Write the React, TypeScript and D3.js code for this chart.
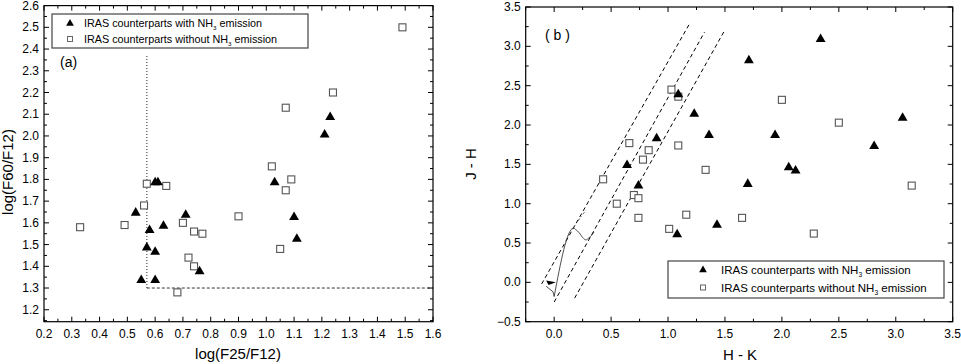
import React, { useEffect, useRef } from "react";
import * as d3 from "d3";

// (a) IRAS colour-colour diagram
const aWithNH3: [number, number][] = [
  [0.53, 1.65], [0.55, 1.34], [0.57, 1.49], [0.58, 1.57], [0.6, 1.79], [0.61, 1.79],
  [0.6, 1.47], [0.6, 1.34], [0.63, 1.59], [0.71, 1.64], [0.76, 1.38], [1.03, 1.79],
  [1.1, 1.63], [1.11, 1.53], [1.21, 2.01], [1.23, 2.09],
];
const aWithoutNH3: [number, number][] = [
  [0.33, 1.58], [0.49, 1.59], [0.56, 1.68], [0.57, 1.78], [0.64, 1.77], [0.68, 1.28],
  [0.7, 1.6], [0.72, 1.44], [0.74, 1.4], [0.74, 1.56], [0.77, 1.55], [0.9, 1.63],
  [1.02, 1.86], [1.05, 1.48], [1.07, 1.75], [1.07, 2.13], [1.09, 1.8], [1.24, 2.2],
  [1.49, 2.5],
];
const aDotted: [number, number][] = [[0.57, 1.3], [0.57, 2.37]];
const aDashed: [number, number][] = [[0.57, 1.3], [1.6, 1.3]];
const aXTicks = [0.2, 0.3, 0.4, 0.5, 0.6, 0.7, 0.8, 0.9, 1.0, 1.1, 1.2, 1.3, 1.4, 1.5, 1.6];
const aYTicks = [1.2, 1.3, 1.4, 1.5, 1.6, 1.7, 1.8, 1.9, 2.0, 2.1, 2.2, 2.3, 2.4, 2.5, 2.6];

// (b) near-infrared colour-colour diagram
const bWithNH3: [number, number][] = [
  [0.64, 1.5], [0.74, 1.24], [0.9, 1.84], [1.09, 2.4], [1.08, 0.62], [1.23, 2.15],
  [1.36, 1.88], [1.43, 0.74], [1.7, 1.26], [1.71, 2.83], [1.94, 1.88], [2.06, 1.47],
  [2.12, 1.43], [2.34, 3.1], [2.81, 1.74], [3.06, 2.1],
];
const bWithoutNH3: [number, number][] = [
  [0.43, 1.31], [0.55, 1.0], [0.66, 1.77], [0.7, 1.11], [0.74, 1.07], [0.74, 0.82],
  [0.78, 1.56], [0.83, 1.68], [1.01, 0.68], [1.03, 2.45], [1.09, 2.36], [1.09, 1.74],
  [1.16, 0.86], [1.33, 1.43], [1.65, 0.82], [2.0, 2.32], [2.28, 0.62], [2.5, 2.03],
  [3.14, 1.23],
];
const bReddening: [number, number][][] = [
  [[-0.11, -0.02], [1.19, 3.29]],
  [[0.0, -0.25], [1.32, 3.18]],
  [[0.18, -0.2], [1.5, 3.21]],
];
const bGiant: [number, number][] = [
  [0.0, -0.18], [0.17, 0.69], [0.19, 0.67], [0.22, 0.63], [0.25, 0.57], [0.28, 0.54],
  [0.3, 0.56], [0.33, 0.6], [0.35, 0.64],
];
const bDwarf: [number, number][] = [[-0.07, -0.05], [-0.01, -0.12], [0.0, -0.18]];
const bDwarfHead: [number, number][] = [[-0.07, 0.025], [0.015, 0.0], [-0.05, -0.035]];
const bCtts: [number, number][] = [[0.17, 0.7], [0.28, 0.92]];
const bXTicks = [0, 0.5, 1.0, 1.5, 2.0, 2.5, 3.0, 3.5];
const bYTicks = [-0.5, 0, 0.5, 1.0, 1.5, 2.0, 2.5, 3.0, 3.5];

const legendLabels = ["IRAS counterparts with NH", "IRAS counterparts without NH"];

const FONT = "'Liberation Sans', Arial, sans-serif";

const App = () => {
  const svgRef = useRef<SVGSVGElement>(null);

  useEffect(() => {
    document.body.style.margin = "0";
    if (!svgRef.current) return;
    const svg = d3.select(svgRef.current);
    svg.selectAll("*").remove();

    const tri = d3.symbol().type(d3.symbolTriangle).size(42);

    const drawFrame = (x: any, y: any, xTicks: number[], yTicks: number[], xMinor: number, yMinor: number) => {
      const [x0, x1] = x.range();
      const [y0, y1] = y.range();
      const g = svg.append("g");
      g.append("rect")
        .attr("x", x0).attr("y", y1)
        .attr("width", x1 - x0).attr("height", y0 - y1)
        .attr("fill", "none").attr("stroke", "#000").attr("stroke-width", 1.2);

      const [dx0, dx1] = x.domain();
      const [dy0, dy1] = y.domain();
      const xAll = d3.range(Math.ceil(dx0 / xMinor - 1e-6), Math.floor(dx1 / xMinor + 1e-6) + 1).map(i => i * xMinor);
      const yAll = d3.range(Math.ceil(dy0 / yMinor - 1e-6), Math.floor(dy1 / yMinor + 1e-6) + 1).map(i => i * yMinor);
      const isMajor = (v: number, list: number[]) => list.some(t => Math.abs(t - v) < 1e-6);

      xAll.forEach(v => {
        const len = isMajor(v, xTicks) ? 5 : 3;
        const px = x(v);
        g.append("line").attr("x1", px).attr("x2", px).attr("y1", y0).attr("y2", y0 - len).attr("stroke", "#000");
        g.append("line").attr("x1", px).attr("x2", px).attr("y1", y1).attr("y2", y1 + len).attr("stroke", "#000");
      });
      yAll.forEach(v => {
        const len = isMajor(v, yTicks) ? 5 : 3;
        const py = y(v);
        g.append("line").attr("y1", py).attr("y2", py).attr("x1", x0).attr("x2", x0 + len).attr("stroke", "#000");
        g.append("line").attr("y1", py).attr("y2", py).attr("x1", x1).attr("x2", x1 - len).attr("stroke", "#000");
      });

      g.selectAll(".xt").data(xTicks).join("text")
        .attr("x", d => x(d)).attr("y", y0 + 16)
        .attr("text-anchor", "middle")
        .attr("font-family", FONT).attr("font-size", 12)
        .text(d => d3.format(".1f")(d));
      g.selectAll(".yt").data(yTicks).join("text")
        .attr("x", x0 - 5).attr("y", d => y(d) + 4)
        .attr("text-anchor", "end")
        .attr("font-family", FONT).attr("font-size", 12)
        .text(d => d3.format(".1f")(d));
    };

    const drawPoints = (x: any, y: any, withD: [number, number][], withoutD: [number, number][]) => {
      withoutD.forEach(d => {
        svg.append("rect")
          .attr("x", x(d[0]) - 3.5).attr("y", y(d[1]) - 3.5)
          .attr("width", 7).attr("height", 7)
          .attr("fill", "#fff").attr("stroke", "#555").attr("stroke-width", 1.1);
      });
      withD.forEach(d => {
        svg.append("path")
          .attr("d", tri())
          .attr("transform", `translate(${x(d[0])},${y(d[1]) + 0.8})`)
          .attr("fill", "#000");
      });
    };

    // legend box: symbol column and text column offsets differ a bit between panels
    const drawLegend = (lx: number, ly: number, w: number, h: number, symDx: number, textDx: number,
      firstRow: number, rowGap: number, fs: number) => {
      const g = svg.append("g");
      g.append("rect").attr("x", lx).attr("y", ly).attr("width", w).attr("height", h)
        .attr("fill", "#fff").attr("stroke", "#444").attr("stroke-width", 1.2);
      legendLabels.forEach((lab, i) => {
        const cy = ly + firstRow + i * rowGap;
        if (i === 0) {
          g.append("path").attr("d", d3.symbol().type(d3.symbolTriangle).size(26)())
            .attr("transform", `translate(${lx + symDx},${cy + 0.5})`).attr("fill", "#000");
        } else {
          g.append("rect").attr("x", lx + symDx - 2.5).attr("y", cy - 2.5).attr("width", 5).attr("height", 5)
            .attr("fill", "#fff").attr("stroke", "#666");
        }
        const t = g.append("text").attr("x", lx + textDx).attr("y", cy + fs * 0.36)
          .attr("font-family", FONT).attr("font-size", fs).attr("fill", "#000");
        t.append("tspan").text(lab);
        t.append("tspan").attr("dy", 3).attr("font-size", fs * 0.58).text("3");
        t.append("tspan").attr("dy", -3).text(" emission");
      });
    };

    const line = (x: any, y: any) => d3.line<[number, number]>().x(d => x(d[0])).y(d => y(d[1]));

    // ---- panel (a)
    const xA = d3.scaleLinear().domain([0.2, 1.6]).range([44, 433]);
    const yA = d3.scaleLinear().domain([1.145, 2.6]).range([321.7, 5.6]);
    drawFrame(xA, yA, aXTicks, aYTicks, 0.05, 0.05);
    svg.append("path").attr("d", line(xA, yA)(aDotted)).attr("fill", "none")
      .attr("stroke", "#666").attr("stroke-width", 1.4).attr("stroke-dasharray", "1,2");
    svg.append("path").attr("d", line(xA, yA)(aDashed)).attr("fill", "none")
      .attr("stroke", "#000").attr("stroke-width", 0.8).attr("stroke-dasharray", "3,2");
    drawPoints(xA, yA, aWithNH3, aWithoutNH3);
    drawLegend(52, 14, 256, 34, 18, 32, 9, 16, 10.8);
    svg.append("text").attr("x", 60).attr("y", 67).attr("font-family", FONT).attr("font-size", 14).text("(a)");
    svg.append("text").attr("x", 238).attr("y", 359).attr("text-anchor", "middle")
      .attr("font-family", FONT).attr("font-size", 15).text("log(F25/F12)");
    svg.append("text").attr("transform", "translate(13,172) rotate(-90)").attr("text-anchor", "middle")
      .attr("font-family", FONT).attr("font-size", 15).text("log(F60/F12)");

    // ---- panel (b)
    const xB = d3.scaleLinear().domain([-0.25, 3.5]).range([525.7, 952.7]);
    const yB = d3.scaleLinear().domain([-0.5, 3.5]).range([321.7, 7]);
    drawFrame(xB, yB, bXTicks, bYTicks, 0.25, 0.25);
    bReddening.forEach(seg => {
      svg.append("path").attr("d", line(xB, yB)(seg)).attr("fill", "none")
        .attr("stroke", "#000").attr("stroke-width", 1).attr("stroke-dasharray", "4,3");
    });
    svg.append("path").attr("d", line(xB, yB)(bCtts)).attr("fill", "none")
      .attr("stroke", "#555").attr("stroke-width", 0.8).attr("stroke-dasharray", "3,2,1,2");
    svg.append("path").attr("d", line(xB, yB).curve(d3.curveMonotoneX)(bGiant)).attr("fill", "none")
      .attr("stroke", "#222").attr("stroke-width", 0.8);
    svg.append("path").attr("d", line(xB, yB)(bDwarf)).attr("fill", "none")
      .attr("stroke", "#222").attr("stroke-width", 0.8);
    svg.append("path").attr("d", line(xB, yB)(bDwarfHead) + "Z").attr("fill", "#000");
    drawPoints(xB, yB, bWithNH3, bWithoutNH3);
    drawLegend(668, 261, 276, 37, 35, 53, 8.5, 18, 11.5);
    svg.append("text").attr("x", 545).attr("y", 40).attr("font-family", FONT).attr("font-size", 14).text("( b )");
    svg.append("text").attr("x", 740).attr("y", 360).attr("text-anchor", "middle")
      .attr("font-family", FONT).attr("font-size", 15).text("H - K");
    svg.append("text").attr("transform", "translate(476,164) rotate(-90)").attr("text-anchor", "middle")
      .attr("font-family", FONT).attr("font-size", 15).text("J - H");
  }, []);

  return <svg ref={svgRef} width={961} height={364} style={{ display: "block", background: "#fff" }}></svg>;
};

export default App;
